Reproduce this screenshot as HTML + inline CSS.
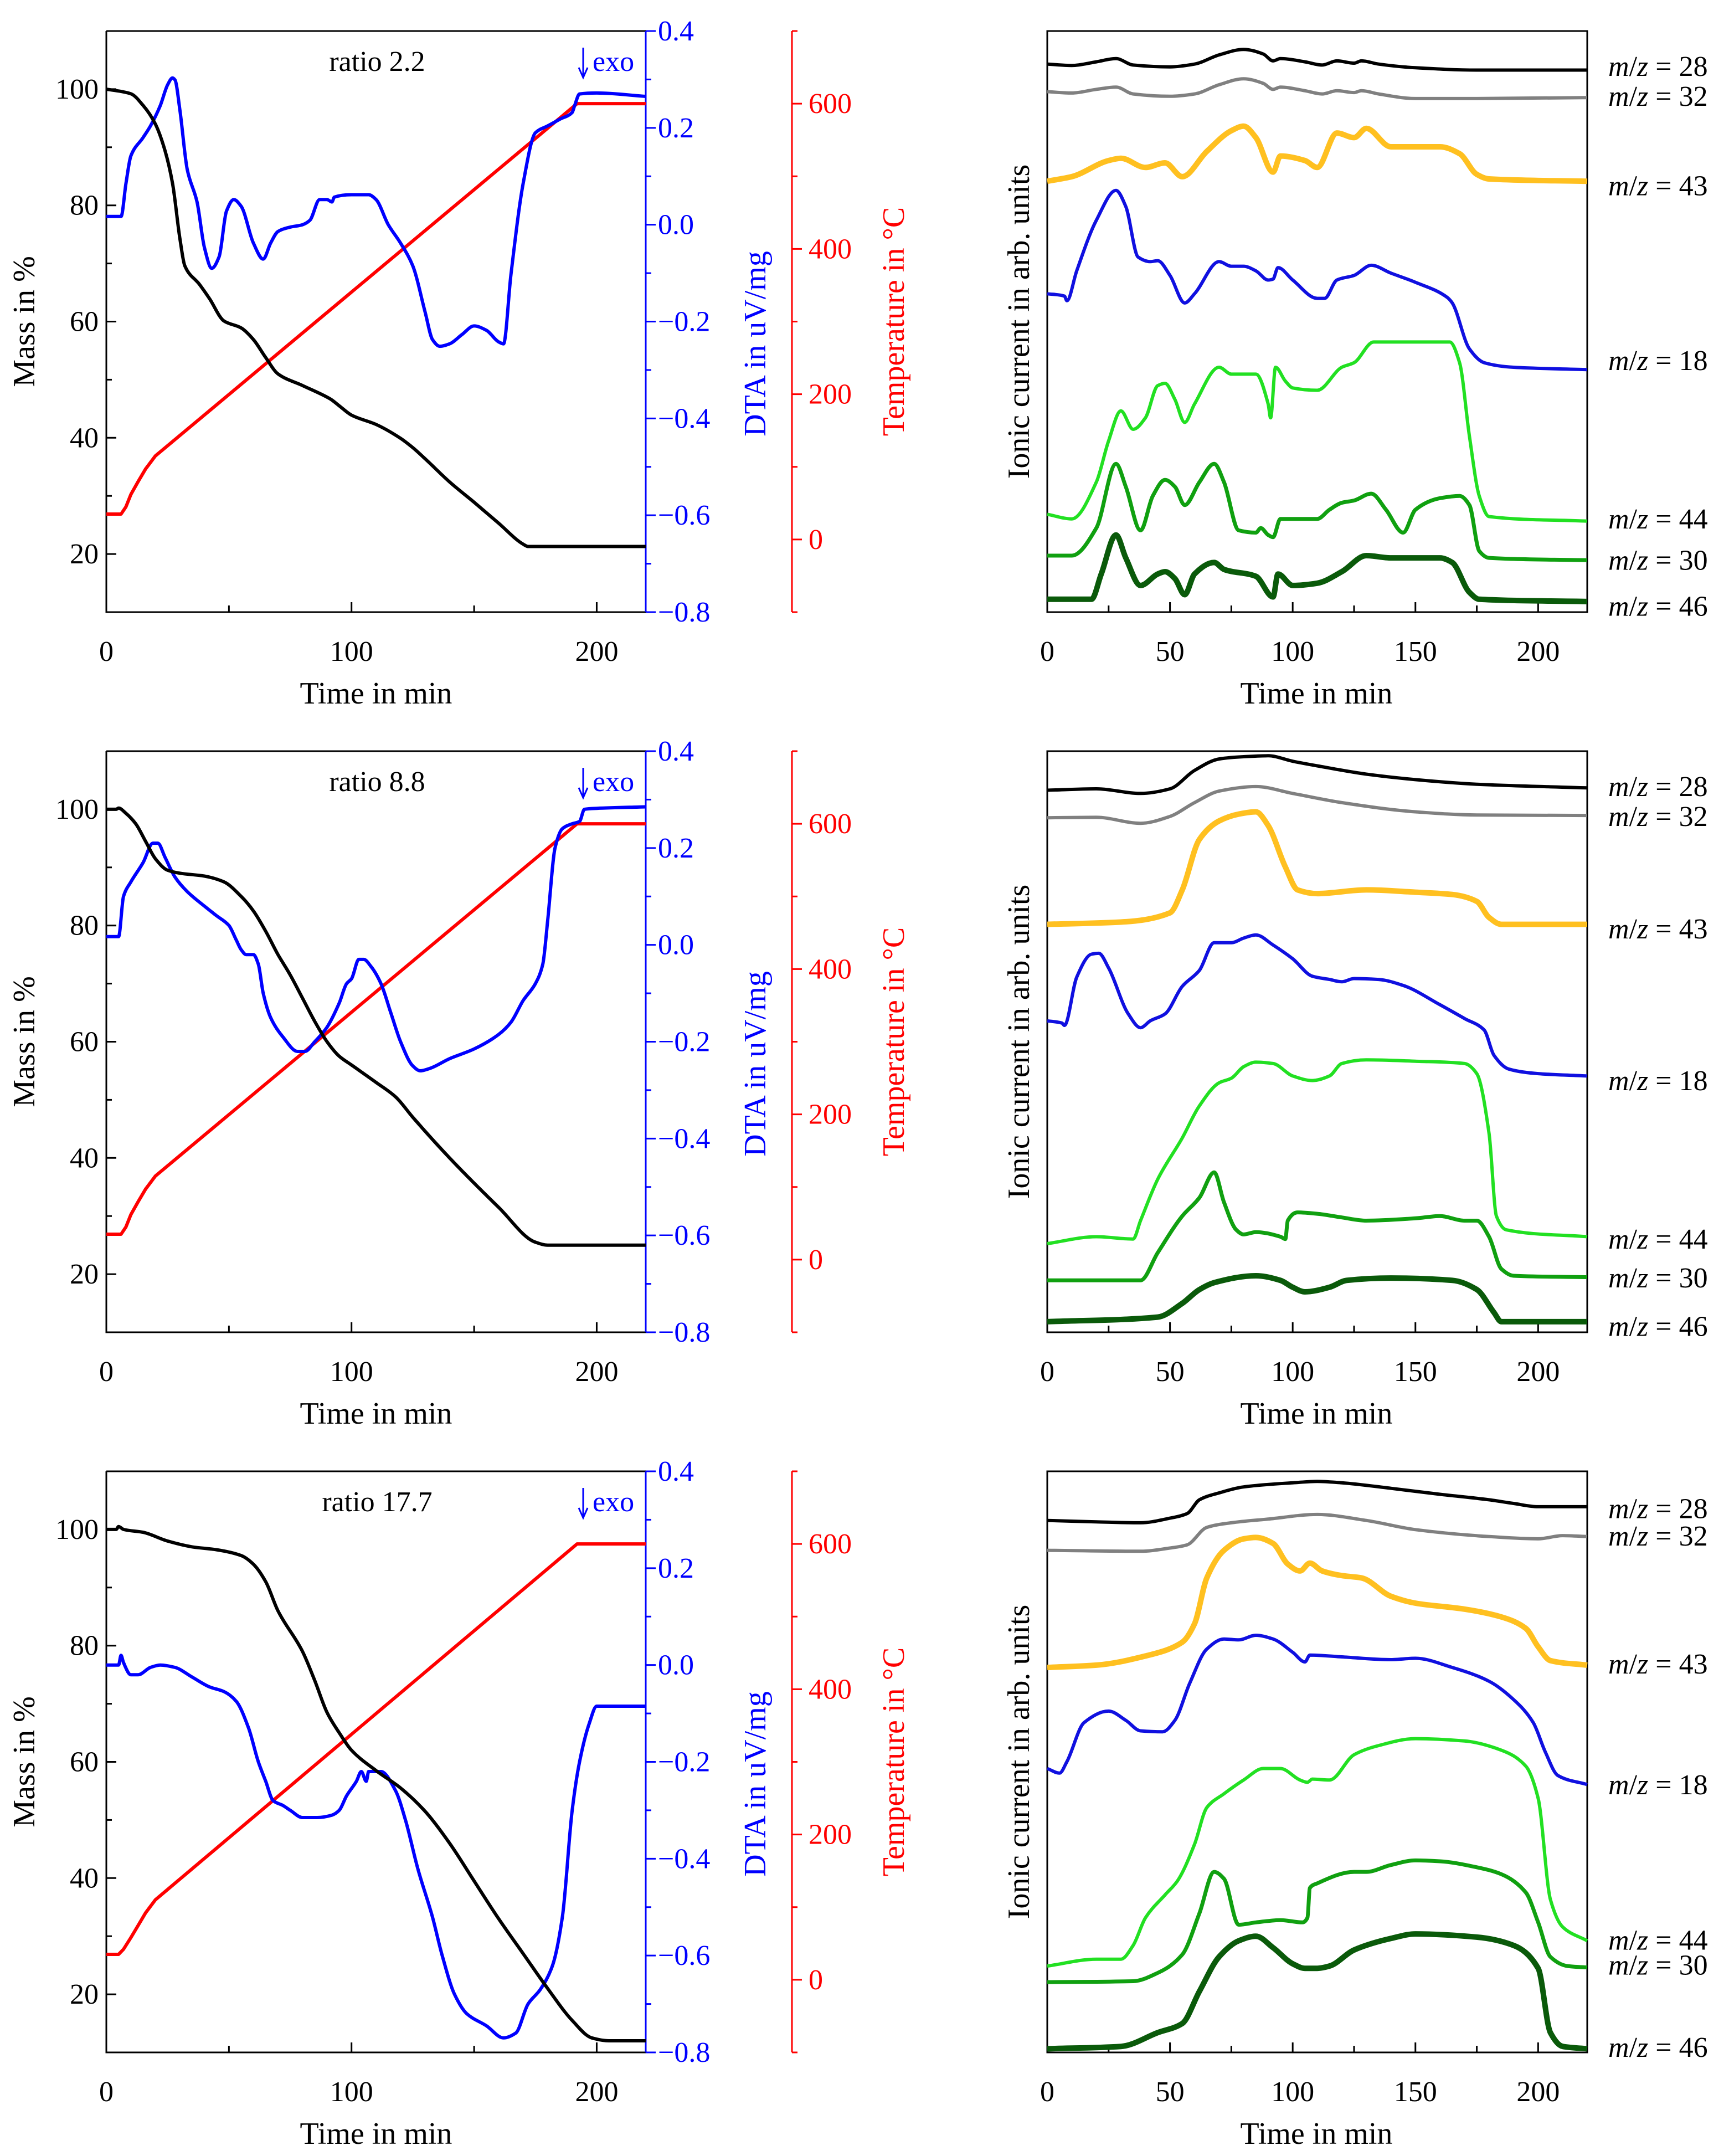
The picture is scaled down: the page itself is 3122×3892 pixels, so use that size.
<!DOCTYPE html>
<html><head><meta charset="utf-8">
<style>
html,body{margin:0;padding:0;background:#fff;}
svg{display:block;font-family:"Liberation Serif",serif;}
</style></head>
<body>
<svg id="fig" xmlns="http://www.w3.org/2000/svg" width="3122" height="3892" viewBox="0 0 3122 3892"></svg>
<script>
// ---------- Panel 1 (ratio 2.2) TG/DTA ----------
const p1MassT=[0,10,15,20,24,27,30,32,38,42,48,55,60,65,70,80,90,92,95,100,110,120,125,130,140,150,160,170,172,180,220];
const p1Mass=[100,99.2,97.2,94,89.3,83.8,74.3,69.6,66.4,64,60.1,58.9,56.9,53.8,51,49,47,46.5,45.5,43.9,42.3,39.9,38.3,36.4,32.4,28.9,25.3,21.7,21.3,21.3,21.3];
const p1DtaT=[0,6,8,10,15,18,22,25,27,28,30,33,37,40,43,46,49,52,55,60,64,67,70,75,80,83,87,90,92,93,100,107,110,115,120,125,130,133,136,140,145,150,155,160,162,165,170,175,180,185,190,191,193,200,220];
const p1Dta=[0.017,0.017,0.085,0.142,0.18,0.204,0.246,0.289,0.303,0.299,0.237,0.114,0.047,-0.047,-0.09,-0.066,0.028,0.052,0.038,-0.038,-0.071,-0.038,-0.014,-0.005,0,0.009,0.052,0.052,0.047,0.057,0.062,0.062,0.052,0,-0.038,-0.085,-0.18,-0.237,-0.251,-0.246,-0.227,-0.209,-0.218,-0.242,-0.246,-0.104,0.085,0.19,0.204,0.218,0.232,0.246,0.27,0.272,0.265];
const p1TempT=[0,6,8,10,13,16,20,192,220];
const p1Temp=[35,35,45,62,80,97,115,600,600];
// ---------- Panel 2 (ratio 8.8) TG/DTA ----------
const p2MassT=[0,4,5,8,12,16,20,25,30,40,48,55,60,65,70,75,80,85,90,95,100,110,118,125,140,160,175,180,220];
const p2Mass=[100,100,100.2,99.3,97.5,94.5,91.5,89.5,89,88.5,87.5,85,82.5,79,75,71.5,67.5,63.5,60,57.5,56,53,50.5,47,40,31.5,25.5,25,25];
const p2DtaT=[0,5,7,10,15,19,21,24,28,33,40,45,50,53,55,57,60,62,64,67,72,78,81,85,90,95,98,100,103,105,108,112,116,120,125,128,132,140,150,160,165,170,175,178,180,183,186,190,193,195,200,220];
const p2Dta=[0.017,0.017,0.1,0.13,0.17,0.21,0.21,0.18,0.14,0.11,0.08,0.06,0.04,0.01,-0.01,-0.02,-0.02,-0.04,-0.1,-0.15,-0.19,-0.22,-0.22,-0.2,-0.17,-0.12,-0.08,-0.07,-0.03,-0.03,-0.045,-0.08,-0.14,-0.2,-0.25,-0.26,-0.255,-0.235,-0.215,-0.185,-0.16,-0.115,-0.08,-0.04,0.05,0.2,0.24,0.25,0.255,0.28,0.282,0.285];
const p2TempT=[0,6,8,10,13,16,20,192,220];
const p2Temp=[35,35,45,62,80,97,115,600,600];
// ---------- Panel 3 (ratio 17.7) TG/DTA ----------
const p3MassT=[0,4,5,7,15,25,35,45,55,60,65,70,80,85,90,95,100,110,120,130,140,150,160,170,180,190,198,205,220];
const p3Mass=[100,100,100.5,100,99.5,98,97,96.5,95.5,94,91,86,79,74,68.5,65,62,58.5,55.5,51.5,46,39.5,33,27,21,15.5,12.5,12,12];
const p3DtaT=[0,5,6,7,10,13,18,22,28,35,42,48,53,58,62,65,68,72,75,80,86,92,95,98,102,104,106,107,112,118,122,127,133,137,142,147,155,162,167,172,177,182,186,190,193,197,200,220];
const p3Dta=[0,0,0.02,0.005,-0.02,-0.02,-0.005,0,-0.005,-0.025,-0.045,-0.055,-0.075,-0.13,-0.2,-0.24,-0.28,-0.29,-0.3,-0.315,-0.315,-0.31,-0.3,-0.27,-0.24,-0.22,-0.24,-0.22,-0.22,-0.26,-0.32,-0.42,-0.52,-0.6,-0.68,-0.72,-0.745,-0.77,-0.76,-0.7,-0.67,-0.62,-0.52,-0.3,-0.2,-0.12,-0.085,-0.085];
const p3TempT=[0,5,7,10,13,16,20,192,220];
const p3Temp=[35,35,42,58,75,92,110,600,600];

// ---------- MS panels (arb. units 0..1265) ----------
const ms1_28T=[0,10,20,28,35,50,60,70,80,88,92,95,105,112,118,125,128,135,150,175,220];
const ms1_28=[1193,1190,1198,1205,1191,1187,1193,1213,1225,1215,1200,1205,1198,1191,1200,1195,1200,1193,1185,1180,1180];
const ms1_32=[1133,1130,1138,1143,1128,1123,1128,1148,1161,1151,1138,1143,1135,1128,1135,1131,1135,1128,1118,1118,1120];
const ms1_43T=[0,10,25,30,40,48,55,65,75,80,85,92,95,105,110,118,125,130,140,150,160,168,175,180,220];
const ms1_43=[938,948,983,988,968,978,948,1003,1048,1058,1033,958,993,983,968,1043,1033,1053,1013,1013,1013,998,953,943,938];
const ms1_18T=[0,7,8,12,20,28,32,37,42,45,50,56,60,70,75,80,85,90,92,94,100,110,113,118,125,132,140,150,163,165,172,178,190,220];
const ms1_18=[693,688,678,743,853,918,883,773,763,765,733,673,693,763,753,753,743,723,725,750,723,683,683,723,733,755,738,718,685,673,573,543,533,528];
const ms1_44T=[0,10,20,25,30,35,40,45,48,52,56,60,70,75,85,90,91,93,97,100,110,120,125,133,150,164,168,172,176,180,220];
const ms1_44=[213,203,283,373,438,398,423,493,498,463,413,453,533,518,518,453,423,533,503,488,483,533,543,588,588,588,543,383,253,208,198];
const ms1_30T=[0,10,20,28,32,38,43,48,52,56,62,68,72,78,85,87,90,92,95,110,115,120,125,132,138,145,150,160,168,172,176,180,220];
const ms1_30=[123,123,183,323,273,178,253,288,273,233,283,323,283,178,173,183,168,163,203,203,223,238,243,258,223,173,223,248,253,233,133,118,113];
const ms1_46T=[0,18,22,28,32,38,45,48,52,56,60,68,72,85,92,94,100,110,120,130,140,160,165,172,176,220];
const ms1_46=[28,28,83,168,118,58,83,88,73,38,83,108,93,78,33,83,58,63,88,123,118,118,108,43,28,23];

const ms2_28T=[0,20,38,50,60,70,80,90,100,110,130,150,175,220];
const ms2_28=[1180,1183,1173,1183,1223,1248,1253,1255,1243,1233,1215,1203,1193,1185];
const ms2_32T=[0,20,38,50,60,70,85,100,120,150,175,220];
const ms2_32=[1120,1121,1108,1123,1153,1178,1188,1173,1153,1133,1126,1125];
const ms2_43T=[0,30,50,55,62,70,78,85,90,97,102,110,130,150,165,175,180,185,220];
const ms2_43=[888,893,913,963,1073,1113,1128,1133,1103,1013,963,955,963,958,953,938,903,888,888];
const ms2_18T=[0,6,7,12,18,21,25,33,38,42,48,55,62,68,75,80,85,92,100,108,115,120,125,135,145,160,170,178,182,188,200,220];
const ms2_18=[678,673,668,773,823,825,793,693,663,678,693,753,788,848,848,858,865,843,813,775,768,763,770,768,755,713,683,658,603,573,563,558];
const ms2_44T=[0,20,35,38,45,55,62,70,75,80,85,92,100,108,115,120,130,150,170,175,180,183,187,220];
const ms2_44=[193,208,203,243,333,423,493,543,553,578,588,585,558,548,558,585,593,590,585,563,433,253,223,208];
const ms2_30T=[0,38,45,55,62,68,72,77,80,85,95,97,98,102,110,120,130,150,160,170,175,180,185,190,220];
const ms2_30=[113,113,173,253,293,348,283,223,213,218,208,203,243,261,258,250,243,248,253,243,243,208,138,123,120];
const ms2_46T=[0,45,55,62,68,85,95,100,105,115,122,140,165,175,182,185,220];
const ms2_46=[23,33,63,93,108,123,113,98,88,98,113,118,113,93,43,23,23];

const ms3_28T=[0,20,38,50,57,62,70,80,100,110,120,140,160,180,190,200,220];
const ms3_28=[1158,1155,1153,1163,1173,1203,1218,1231,1240,1243,1240,1228,1215,1203,1195,1188,1188];
const ms3_32T=[0,38,50,57,65,75,90,110,130,150,180,200,210,220];
const ms3_32=[1093,1091,1098,1105,1143,1153,1161,1171,1158,1138,1123,1118,1125,1123];
const ms3_43T=[0,20,40,55,60,65,72,80,85,92,98,103,107,112,120,128,140,150,170,185,195,200,205,220];
const ms3_43=[838,843,863,893,933,1033,1093,1118,1121,1108,1063,1048,1065,1048,1038,1033,993,978,965,948,923,883,853,843];
const ms3_18T=[0,5,8,15,25,32,38,47,52,58,65,72,78,85,92,100,105,107,120,140,150,165,180,190,198,203,208,220];
const ms3_18=[618,608,633,718,743,723,700,698,723,803,878,900,898,908,900,871,850,865,861,855,858,838,808,768,718,653,603,583];
const ms3_44T=[0,20,30,35,40,48,53,60,65,72,80,88,95,103,106,108,115,125,135,150,170,185,195,200,205,210,220];
const ms3_44=[188,203,203,233,293,343,373,453,533,563,593,618,618,593,588,595,593,648,668,683,678,658,623,553,333,273,243];
const ms3_30T=[0,35,45,55,62,68,72,78,85,95,104,106,107,110,125,130,140,150,160,175,185,195,200,205,212,220];
const ms3_30=[153,155,173,213,303,393,378,278,283,288,283,293,358,368,393,393,408,418,416,403,388,348,283,208,188,185];
const ms3_46T=[0,30,45,55,62,70,78,85,92,100,105,110,115,125,140,150,175,190,200,205,210,220];
const ms3_46=[8,13,43,63,133,208,243,253,228,193,183,183,188,223,248,258,251,233,183,43,13,8];

const xTicksLeft=[0,100,200];
const xTicksRight=[0,50,100,150,200];
const massTicks=[20,40,60,80,100];
const dtaTicks=[0.4,0.2,0.0,-0.2,-0.4,-0.6,-0.8];
const tempTicks=[0,200,400,600];
const ratioLabels=["ratio 2.2","ratio 8.8","ratio 17.7"];
const msLabels=["28","32","43","18","44","30","46"];

// ---------- layout ----------
const NS="http://www.w3.org/2000/svg";
const svg=document.getElementById('fig');
const rows=[[56,1105],[1356,2405],[2656,3705]];
const LX=[192,1166], RX=[1891,2866], REDX=1430;
const FS=52;
function el(tag,attrs,parent){const e=document.createElementNS(NS,tag);for(const k in attrs)e.setAttribute(k,attrs[k]);(parent||svg).appendChild(e);return e;}
function lin(d0,d1,r0,r1){return v=>r0+(v-d0)/(d1-d0)*(r1-r0);}
function linePath(ts,vs,sx,sy){return ts.map((t,i)=>(i?'L':'M')+sx(t).toFixed(1)+','+sy(vs[i]).toFixed(1)).join(' ');}
// monotone cubic (Fritsch-Carlson) path
function pathD(ts,vs,sx,sy){
  const X=ts.map(sx),Y=vs.map(sy),n=X.length;
  if(n<3)return linePath(ts,vs,sx,sy);
  const dx=[],s=[];
  for(let i=0;i<n-1;i++){dx.push(X[i+1]-X[i]);s.push((Y[i+1]-Y[i])/(dx[i]||1e-6));}
  const m=[s[0]];
  for(let i=1;i<n-1;i++){ if(s[i-1]*s[i]<=0)m.push(0); else {const w1=2*dx[i]+dx[i-1],w2=dx[i]+2*dx[i-1];m.push((w1+w2)/(w1/s[i-1]+w2/s[i]));}}
  m.push(s[n-2]);
  let d='M'+X[0].toFixed(1)+','+Y[0].toFixed(1);
  for(let i=0;i<n-1;i++){const h=dx[i]/3;
    d+=` C${(X[i]+h).toFixed(1)},${(Y[i]+m[i]*h).toFixed(1)} ${(X[i+1]-h).toFixed(1)},${(Y[i+1]-m[i+1]*h).toFixed(1)} ${X[i+1].toFixed(1)},${Y[i+1].toFixed(1)}`;}
  return d;
}
function fmtDta(v){const s=Math.abs(v).toFixed(1);return v<0?'\u2212'+s:s;}

const leftData=[
 {mT:p1MassT,m:p1Mass,dT:p1DtaT,d:p1Dta,tT:p1TempT,t:p1Temp},
 {mT:p2MassT,m:p2Mass,dT:p2DtaT,d:p2Dta,tT:p2TempT,t:p2Temp},
 {mT:p3MassT,m:p3Mass,dT:p3DtaT,d:p3Dta,tT:p3TempT,t:p3Temp}];
const rightData=[
 [[ms1_28T,ms1_28],[ms1_28T,ms1_32],[ms1_43T,ms1_43],[ms1_18T,ms1_18],[ms1_44T,ms1_44],[ms1_30T,ms1_30],[ms1_46T,ms1_46]],
 [[ms2_28T,ms2_28],[ms2_32T,ms2_32],[ms2_43T,ms2_43],[ms2_18T,ms2_18],[ms2_44T,ms2_44],[ms2_30T,ms2_30],[ms2_46T,ms2_46]],
 [[ms3_28T,ms3_28],[ms3_32T,ms3_32],[ms3_43T,ms3_43],[ms3_18T,ms3_18],[ms3_44T,ms3_44],[ms3_30T,ms3_30],[ms3_46T,ms3_46]]];
const msColors=['#000000','#808080','#ffc020','#1010e0','#22e022','#10a010','#0a5a0a'];
const msWidths=[6,6,10,6,6,7,10];
const msLabelY=[[145,210,405,785,1130,1220,1320],[145,210,455,785,1130,1215,1320],[150,210,490,755,1095,1150,1330]];

rows.forEach((r,ri)=>{
  const [top,bot]=r;
  const g=el('g',{});
  
  
  const sx=lin(0,220,LX[0],LX[1]);
  const sm=lin(10,110,bot,top);
  const sd=lin(-0.8,0.4,bot,top);
  const st=lin(-100,700,bot,top);
  const ax=el('path',{d:`M${LX[0]},${top} L${LX[0]},${bot} L${LX[1]},${bot}`,stroke:'#000','stroke-width':3,fill:'none'},g);
   
  const ax2=el('line',{x1:LX[0],y1:top,x2:LX[1],y2:top,stroke:'#000','stroke-width':3},g);
   
  const bax=el('line',{x1:LX[1],y1:top,x2:LX[1],y2:bot,stroke:'#0000ff','stroke-width':3},g);
   
  const rax=el('line',{x1:REDX,y1:top,x2:REDX,y2:bot,stroke:'#ff0000','stroke-width':3},g);
   
  for(let t=0;t<=220;t+=50){const x=sx(t);el('line',{x1:x,y1:bot,x2:x,y2:bot-(t%100===0?18:12),stroke:'#000','stroke-width':3},g);}
  xTicksLeft.forEach(t=>{const tx=el('text',{x:sx(t),y:bot+88,'font-size':FS,'text-anchor':'middle'},g);tx.textContent=t;
    });
  const xt=el('text',{x:(LX[0]+LX[1])/2,y:bot+165,'font-size':56,'text-anchor':'middle'},g);xt.textContent='Time in min';
  
  for(let m=10;m<=110;m+=10){const y=sm(m);el('line',{x1:LX[0],y1:y,x2:LX[0]+(m%20===0?18:10),y2:y,stroke:'#000','stroke-width':3},g);}
  massTicks.forEach(m=>{const tx=el('text',{x:LX[0]-14,y:sm(m)+17,'font-size':FS,'text-anchor':'end'},g);tx.textContent=m;
    });
  const mt=el('text',{transform:`translate(62,${(top+bot)/2}) rotate(-90)`,'font-size':56,'text-anchor':'middle'},g);mt.textContent='Mass in %';
  
  for(let i=0;i<=12;i++){const v=-0.8+i*0.1;const y=sd(v);el('line',{x1:LX[1],y1:y,x2:LX[1]+(i%2===0?18:10),y2:y,stroke:'#0000ff','stroke-width':3},g);}
  dtaTicks.forEach(v=>{const tx=el('text',{x:LX[1]+22,y:sd(v)+17,'font-size':FS,fill:'#0000ff'},g);tx.textContent=fmtDta(v);
    });
  const dt=el('text',{transform:`translate(1382,${(top+bot)/2+40}) rotate(-90)`,'font-size':56,'text-anchor':'middle',fill:'#0000ff'},g);dt.textContent='DTA in uV/mg';
  
  for(let v=-100;v<=700;v+=100){const y=st(v);el('line',{x1:REDX,y1:y,x2:REDX+(v%200===0?18:10),y2:y,stroke:'#ff0000','stroke-width':3},g);}
  tempTicks.forEach(v=>{const tx=el('text',{x:REDX+30,y:st(v)+17,'font-size':FS,fill:'#ff0000'},g);tx.textContent=v;
    });
  const tt=el('text',{transform:`translate(1632,${(top+bot)/2}) rotate(-90)`,'font-size':56,'text-anchor':'middle',fill:'#ff0000'},g);tt.textContent='Temperature in \u00B0C';
  
  const rt=el('text',{x:681,y:top+72,'font-size':FS,'text-anchor':'middle'},g);rt.textContent=ratioLabels[ri];
  
  const ex=el('text',{x:1070,y:top+72,'font-size':FS,fill:'#0000ff'},g);ex.textContent='exo';
  
  const ar=el('path',{d:`M1053,${top+30} L1053,${top+80} M1045,${top+66} L1053,${top+84} L1061,${top+66}`,stroke:'#0000ff','stroke-width':3,fill:'none'},g);
  
  const D=leftData[ri];
  const tl=el('path',{d:linePath(D.tT,D.t,sx,st),stroke:'#ff0000','stroke-width':6,fill:'none','stroke-linejoin':'round'},g);
  
  const dl=el('path',{d:pathD(D.dT,D.d,sx,sd),stroke:'#0000ff','stroke-width':6,fill:'none','stroke-linejoin':'round'},g);
  
  const ml=el('path',{d:pathD(D.mT,D.m,sx,sm),stroke:'#000','stroke-width':6,fill:'none','stroke-linejoin':'round'},g);
  

  const h=el('g',{});
  
  
  const rx=lin(0,220,RX[0],RX[1]);
  const ry=lin(0,1265,bot,top);
  const fr=el('rect',{x:RX[0],y:top,width:RX[1]-RX[0],height:bot-top,fill:'none',stroke:'#000','stroke-width':3},h);
  
  for(let t=0;t<=220;t+=25){const x=rx(t);el('line',{x1:x,y1:bot,x2:x,y2:bot-(t%50===0?18:12),stroke:'#000','stroke-width':3},h);}
  xTicksRight.forEach(t=>{const tx=el('text',{x:rx(t),y:bot+88,'font-size':FS,'text-anchor':'middle'},h);tx.textContent=t;
    });
  const xt2=el('text',{x:2377,y:bot+165,'font-size':56,'text-anchor':'middle'},h);xt2.textContent='Time in min';
  
  const it=el('text',{transform:`translate(1858,${(top+bot)/2}) rotate(-90)`,'font-size':56,'text-anchor':'middle'},h);it.textContent='Ionic current in arb. units';
  
  rightData[ri].forEach((s,si)=>{
    const p=el('path',{d:pathD(s[0],s[1],rx,ry),stroke:msColors[si],'stroke-width':msWidths[si],fill:'none','stroke-linejoin':'round'},h);
    
    
    const sc=ri===2?0.824:0.829;
    const lt=el('text',{x:2904,y:top-56+msLabelY[ri][si]*sc+17,'font-size':FS},h);
    
    
    const a=el('tspan',{'font-style':'italic'},lt);a.textContent='m';
    const b=el('tspan',{},lt);b.textContent='/';
    const c=el('tspan',{'font-style':'italic'},lt);c.textContent='z';
    const d=el('tspan',{},lt);d.textContent=' = '+msLabels[si];
  });
});
</script>
</body></html>
